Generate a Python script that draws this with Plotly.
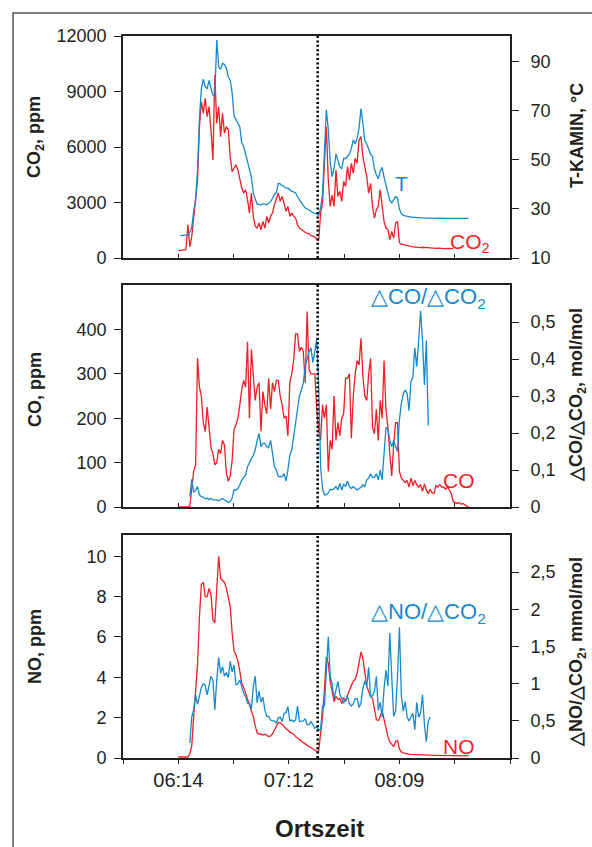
import plotly.graph_objects as go

# ---------------------------------------------------------------------------
# Measured series, one value per minute. Start times in minutes after midnight
# (374 = 06:14).
# ---------------------------------------------------------------------------
co2_start = 374
co2_ppm = [
    395, 400, 420, 430, 450, 1800, 600, 1150, 2230, 2950,
    4220, 7100, 8450, 7820, 8630, 7640, 8180, 6920, 5300, 9900,
    7280, 8180, 6560, 7820, 6740, 7100, 6920, 5480, 4670, 4850,
    5030, 4760, 4220, 3780, 3510, 3690, 3150, 2430, 3510, 2250,
    1710, 1620, 1890, 1530, 1980, 1620, 2250, 1890, 2250, 2430,
    2880, 3240, 3510, 3060, 3330, 2970, 2520, 2790, 2250, 2430,
    2250, 2160, 1800, 1620, 1530, 1480, 1390, 1350, 1320, 1210,
    1170, 1140, 1030, 940, 2420, 2970, 5120, 7100, 4220, 2790,
    3400, 2790, 4760, 3330, 3600, 3060, 4130, 3870, 4940, 4220,
    5120, 4580, 5390, 5120, 6380, 6560, 5480, 4940, 4400, 3510,
    4040, 2790, 2160, 2610, 2790, 3690, 2790, 1980, 1620, 1530,
    990, 1440, 1080, 1890, 1980, 830, 740, 740, 690, 650,
    650, 620, 600, 580, 590, 570, 560, 580, 560, 540,
    560, 550, 530, 540, 520, 530, 540, 520, 510, 520,
    530, 520, 510, 520,
]

t_kamin_start = 375
t_kamin_c = [
    19.1, 19.1, 19.2, 19.2, 19.4, 20.5, 22.5, 28.9, 33.5,
    46, 67, 79, 83, 80, 79, 82.5, 79, 76.5, 76,
    99, 88, 87, 89.5, 89, 87.5, 84, 82.5, 77.5, 68,
    66.5, 65.5, 63.5, 57, 55.5, 52.5, 49.7, 46, 43, 36.4,
    34.2, 32, 31.9, 31.6, 32.2, 32.1, 31.7, 32.3, 33, 34.4,
    36, 36.6, 40.5, 40.3, 39.5, 39.2, 38.5, 38.5, 37.8, 37.2,
    37, 36.5, 35, 33.7, 32.9, 31.4, 30.5, 29.9, 29.7, 28.9,
    28.5, 28.2, 28, 27.4, 30.5, 36, 55, 70.5, 62.5, 49.3,
    43.2, 46.6, 52.5, 49.3, 47.2, 46.4, 50.6, 50.6, 51.5, 52.5,
    54.8, 58.2, 56.5, 58.9, 63, 71, 65, 58, 56.5, 54,
    52.3, 51.5, 46.3, 44, 42.3, 45.5, 47, 43, 40, 37,
    33.5, 32.5, 34, 35, 34.5, 30, 28, 27.4, 27.2, 27.0,
    26.8, 26.7, 26.6, 26.6, 26.5, 26.4, 26.5, 26.4, 26.3, 26.3,
    26.3, 26.2, 26.3, 26.2, 26.2, 26.3, 26.2, 26.2, 26.1, 26.2,
    26.2, 26.2, 26.1, 26.2, 26.2, 26.2, 26.2, 26.1, 26.2, 26.2,
    26.2, 26.2,
]

co_start = 374
co_ppm = [
    0, 0, 0, 0, 0, 0, 2, 35, 80, 95,
    335, 270, 250, 190, 170, 225, 180, 135, 120, 95,
    100, 130, 120, 150, 140, 78, 58, 70, 105, 175,
    185, 200, 230, 265, 285, 270, 372, 200, 355, 290,
    240, 270, 280, 170, 260, 230, 210, 290, 220, 280,
    260, 285, 285, 250, 230, 200, 205, 160, 280, 300,
    330, 390, 390, 350, 360, 350, 280, 440, 310, 300,
    300, 300, 220, 170, 150, 230, 200, 230, 80, 150,
    130, 250, 150, 190, 160, 200, 210, 290, 290, 300,
    155, 250, 300, 330, 320, 380, 295, 250, 240, 300,
    335, 180, 165, 220, 150, 240, 200, 330, 220, 180,
    120, 70, 140, 190, 190, 80, 65, 60, 55, 60,
    45, 65, 48, 60, 50, 45, 50, 35, 52, 38,
    30, 40, 32, 30, 48, 45, 50, 45, 45, 40,
    45, 38, 30, 12, 10, 8, 10, 6, 8, 4,
    2, 0,
]

dco_dco2_start = 380
dco_dco2 = [
    0.028, 0.075, 0.04, 0.045,
    0.055, 0.033, 0.028, 0.027, 0.022, 0.024, 0.019, 0.024, 0.019, 0.02,
    0.019, 0.017, 0.019, 0.023, 0.019, 0.017, 0.012, 0.015, 0.024, 0.046,
    0.046, 0.05, 0.06, 0.073, 0.08, 0.086, 0.109, 0.118, 0.13, 0.14,
    0.154, 0.18, 0.199, 0.163, 0.172, 0.172, 0.163, 0.16, 0.18, 0.145,
    0.109, 0.1, 0.082, 0.082, 0.082, 0.09, 0.07, 0.1, 0.14, 0.154,
    0.19, 0.235, 0.27, 0.3, 0.316, 0.335, 0.38, 0.4, 0.42, 0.43,
    0.39, 0.42, 0.455, 0.33, 0.11, 0.05, 0.033, 0.033, 0.038, 0.048,
    0.046, 0.05, 0.055, 0.046, 0.064, 0.046, 0.062, 0.055, 0.07, 0.055,
    0.05, 0.055, 0.05, 0.046, 0.05, 0.053, 0.06, 0.055, 0.073, 0.078,
    0.09, 0.08, 0.08, 0.09, 0.073, 0.1, 0.073, 0.15, 0.215, 0.21,
    0.18, 0.163, 0.18, 0.165, 0.15, 0.235, 0.28, 0.305, 0.316, 0.307,
    0.26, 0.34, 0.35, 0.43, 0.38, 0.45, 0.53, 0.45, 0.33, 0.45, 0.22,
]

no_start = 374
no_ppm = [
    0.05, 0.05, 0.05, 0.05, 0.05, 0.05, 0.2, 0.6, 2.05, 3.54,
    4.6, 7.0, 8.6, 8.7, 8.0, 8.0, 8.4, 8.1, 6.85, 6.7,
    8.5, 10.0, 8.9, 8.8, 8.7, 8.42, 8.0, 7.5, 6.2, 5.3,
    5.1, 4.8, 4.3, 3.7, 3.5, 3.2, 2.9, 2.7, 2.4, 2.05,
    1.6, 1.25, 1.2, 1.15, 1.14, 1.18, 1.12, 1.06, 1.09, 1.2,
    1.39, 1.6, 1.75, 1.75, 1.68, 1.57, 1.45, 1.39, 1.28, 1.22,
    1.18, 1.06, 0.98, 0.89, 0.8, 0.76, 0.7, 0.61, 0.56, 0.52,
    0.46, 0.4, 0.33, 0.35, 1.3, 2.05, 3.38, 5.0, 4.7, 3.8,
    3.3, 2.8, 3.05, 2.9, 2.95, 2.7, 3.0, 2.8, 3.1, 3.4,
    3.6, 3.8, 3.9, 4.2, 4.7, 5.25, 4.95, 4.2, 3.55, 3.3,
    3.05, 2.95, 2.45, 1.9, 1.85, 2.05, 2.35, 1.9, 1.45, 1.06,
    0.8, 0.65, 0.56, 0.82, 0.87, 0.45, 0.3, 0.25, 0.22, 0.2,
    0.19, 0.18, 0.17, 0.17, 0.16, 0.16, 0.15, 0.15, 0.15, 0.14,
    0.14, 0.14, 0.13, 0.13, 0.13, 0.13, 0.12, 0.12, 0.12, 0.12,
    0.12, 0.12, 0.12, 0.11, 0.11, 0.11, 0.11, 0.11, 0.11, 0.11,
    0.11, 0.11,
]

dno_dco2_start = 380
dno_dco2 = [
    0.2, 0.55, 0.65, 0.85,
    0.72, 0.85, 0.95, 1.0, 0.98, 0.85, 0.98, 1.1, 1.05, 0.65,
    1.05, 1.35, 1.14, 1.23, 1.1, 1.15, 1.08, 1.3, 1.16, 1.25,
    0.98, 1.0, 1.05, 0.96, 0.87, 0.83, 0.74, 0.74, 0.65, 0.96,
    1.1, 0.74, 0.9, 0.75, 0.82, 0.65, 0.56, 0.56, 0.51, 0.5,
    0.5, 0.47, 0.54, 0.55, 0.49, 0.6, 0.61, 0.69, 0.5, 0.51,
    0.49, 0.51, 0.7, 0.49, 0.5, 0.5, 0.53, 0.45, 0.45, 0.49,
    0.45, 0.4, 0.42, 0.38, 0.38, 0.7, 0.7, 1.1, 1.63, 1.1,
    1.0, 0.8, 0.92, 1.03, 0.86, 0.8, 0.74, 0.78, 0.83, 0.73,
    0.7, 0.73, 0.8, 0.8, 0.68, 0.74, 0.94, 1.04, 0.96, 1.22,
    0.82, 0.84, 0.9, 1.1, 0.64, 0.75, 0.55, 0.93, 1.18, 0.97,
    1.68, 1.09, 0.56, 0.63, 1.1, 1.76, 0.83, 0.63, 0.76, 0.55,
    0.5, 0.55, 0.6, 0.38, 0.75, 0.55, 0.6, 0.85, 0.45, 0.22, 0.5, 0.55,
]

# Time of the event marked by the dotted line (minutes after midnight)
event_min = 446.5

# Time axis: tick grid and labels
x_ticks = [345.25, 374.0, 402.75, 431.5, 460.25, 489.0, 517.75, 546.5]
x_labels = ["", "06:14", "", "07:12", "", "08:09", "", ""]

# Axis ticks per panel
co2_ticks = [0, 3000, 6000, 9000, 12000]
temp_ticks = [10, 30, 50, 70, 90]
co_ticks = [0, 100, 200, 300, 400]
dco_ticks = [0, 0.1, 0.2, 0.3, 0.4, 0.5]
no_ticks = [0, 2, 4, 6, 8, 10]
dno_ticks = [0, 0.5, 1, 1.5, 2, 2.5]

# ---------------------------------------------------------------------------
W, H = 592, 847
RED = "#ee1f26"
BLUE = "#1689d0"
INK = "#231f20"
FONT = "Liberation Sans, Arial, Helvetica, sans-serif"


def minutes(start, n):
    return [start + i for i in range(n)]


def fmt(v):
    return f"{v:g}".replace(".", ",")


def px(x):
    return x / W


def py(y):
    return 1 - y / H


X_DOM = [px(123), px(510)]
PANELS = [(36, 258), (285, 507), (535, 758)]  # top/bottom pixel rows per panel

fig = go.Figure()

LW = 1.3
series = [
    (minutes(co2_start, len(co2_ppm)), co2_ppm, RED, "x", "y"),
    (minutes(t_kamin_start, len(t_kamin_c)), t_kamin_c, BLUE, "x", "y2"),
    (minutes(co_start, len(co_ppm)), co_ppm, RED, "x2", "y3"),
    (minutes(dco_dco2_start, len(dco_dco2)), dco_dco2, BLUE, "x2", "y4"),
    (minutes(no_start, len(no_ppm)), no_ppm, RED, "x3", "y5"),
    (minutes(dno_dco2_start, len(dno_dco2)), dno_dco2, BLUE, "x3", "y6"),
]
for xs, ys, col, xa, ya in series:
    fig.add_trace(go.Scatter(x=xs, y=ys, mode="lines", xaxis=xa, yaxis=ya,
                             line=dict(color=col, width=LW), showlegend=False,
                             hoverinfo="skip"))

axis_common = dict(showgrid=False, zeroline=False, showline=True, automargin=False,
                   linecolor=INK, linewidth=1.6, tickcolor=INK, tickwidth=1.3,
                   tickfont=dict(family=FONT, size=18, color=INK))

x_range = [x_ticks[0], x_ticks[-1]]
layout = dict(template="none", width=W, height=H, autosize=False,
              margin=dict(l=0, r=0, t=0, b=0, pad=0),
              paper_bgcolor="white", plot_bgcolor="white",
              showlegend=False)

left_specs = [(co2_ticks, [0, 12000]), (co_ticks, [0, 500]), (no_ticks, [0, 11.05])]
right_specs = [(temp_ticks, [10, 100.6]), (dco_ticks, [0, 0.6]), (dno_ticks, [0, 3.0])]

for i, (top, bot) in enumerate(PANELS):
    xn = "xaxis" if i == 0 else f"xaxis{i + 1}"
    yl = 2 * i + 1
    yr = 2 * i + 2
    yln = "yaxis" if yl == 1 else f"yaxis{yl}"
    yrn = f"yaxis{yr}"
    last = i == 2
    layout[xn] = dict(axis_common, domain=X_DOM, anchor="y" if yl == 1 else f"y{yl}",
                      range=x_range, tickvals=x_ticks, ticktext=x_labels,
                      showticklabels=last, ticks="outside" if last else "inside",
                      ticklen=4, mirror=True,
                      tickfont=dict(family=FONT, size=20, color=INK),
                      ticklabelstandoff=-1)
    lt, lr = left_specs[i]
    rt, rr = right_specs[i]
    layout[yln] = dict(axis_common, domain=[py(bot), py(top)], anchor="x" if i == 0 else f"x{i + 1}",
                       range=lr, tickvals=lt, ticktext=[fmt(v) for v in lt],
                       ticks="outside", ticklen=7, ticklabelstandoff=4)
    layout[yrn] = dict(axis_common, overlaying="y" if yl == 1 else f"y{yl}", side="right",
                       anchor="x" if i == 0 else f"x{i + 1}",
                       range=rr, tickvals=rt, ticktext=[fmt(v) for v in rt],
                       ticks="outside", ticklen=7, ticklabelstandoff=8)

# inner half of the crossing ticks on the lowest time axis
layout["xaxis4"] = dict(showgrid=False, zeroline=False, showline=False, automargin=False,
                        overlaying="x3", anchor="y5", range=x_range,
                        tickvals=x_ticks, showticklabels=False, ticks="inside",
                        ticklen=5, tickcolor=INK, tickwidth=1.3)

fig.update_layout(**layout)

# event marker in every panel
for xa, ya in [("x", "y"), ("x2", "y3"), ("x3", "y5")]:
    fig.add_shape(type="line", xref=xa, yref=f"{ya} domain", x0=event_min, x1=event_min,
                  y0=0, y1=1, line=dict(color="black", width=2.6, dash="2px,2.4px"))

# outer frame
fig.add_shape(type="rect", xref="paper", yref="paper", x0=px(13), x1=1.05,
              y0=-0.05, y1=py(13), line=dict(color="#555555", width=1.5),
              fillcolor="rgba(0,0,0,0)", layer="below")

ann = []
title_font = dict(family=FONT, size=18, color=INK)
for text, x, y in [
    ("<b>CO<sub>2</sub>, ppm</b>", 35, 137),
    ("<b>CO, ppm</b>", 35, 390),
    ("<b>NO, ppm</b>", 35, 647),
    ("<b>T-KAMIN, °C</b>", 577, 136),
    ("<b>△CO/△CO<sub>2</sub>, mol/mol</b>", 577, 395),
    ("<b>△NO/△CO<sub>2</sub>, mmol/mol</b>", 577, 652),
]:
    ann.append(dict(text=text, x=px(x), y=py(y), xref="paper", yref="paper",
                    showarrow=False, textangle=-90, xanchor="center", yanchor="middle",
                    font=title_font))

ann.append(dict(text="<b>Ortszeit</b>", x=px(319), y=py(828), xref="paper", yref="paper",
                showarrow=False, xanchor="center", yanchor="middle",
                font=dict(family=FONT, size=24, color=INK)))

for text, col, x, y, size in [
    ("T", BLUE, 401, 183, 21),
    ("CO<sub>2</sub>", RED, 470, 243, 21),
    ("△CO/△CO<sub>2</sub>", BLUE, 428, 298, 22),
    ("CO", RED, 459, 480, 21),
    ("△NO/△CO<sub>2</sub>", BLUE, 428, 613, 22),
    ("NO", RED, 459, 746, 21),
]:
    ann.append(dict(text=text, x=px(x), y=py(y), xref="paper", yref="paper",
                    showarrow=False, xanchor="center", yanchor="middle",
                    font=dict(family=FONT, size=size, color=col)))

fig.update_layout(annotations=ann)
fig.write_html("out.html")
